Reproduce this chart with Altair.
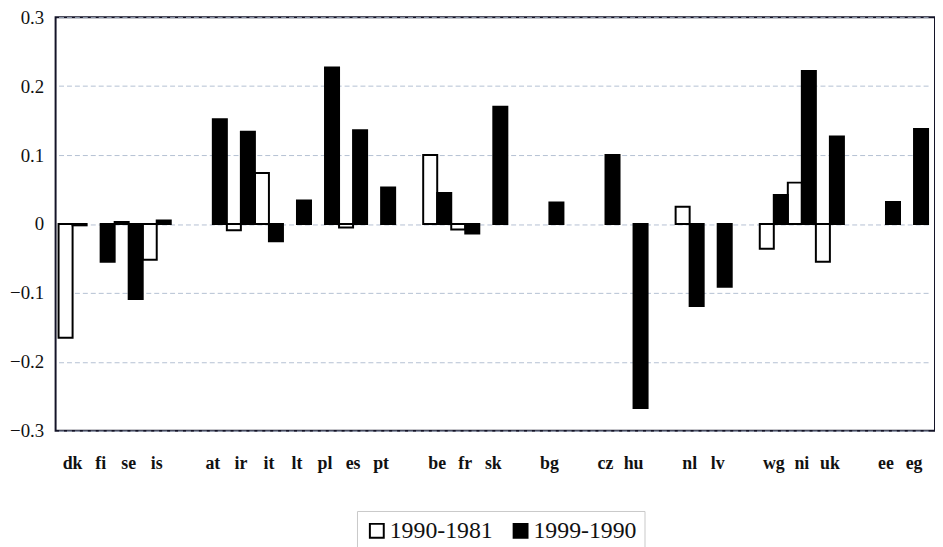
import altair as alt
import pandas as pd

# Country groups (gaps are drawn between groups)
groups = [
    ["dk", "fi", "se", "is"],
    ["at", "ir", "it", "lt", "pl", "es", "pt"],
    ["be", "fr", "sk"],
    ["bg"],
    ["cz", "hu"],
    ["nl", "lv"],
    ["wg", "ni", "uk"],
    ["ee", "eg"],
]
countries = [c for g in groups for c in g]
series = ["1990-1981", "1999-1990"]

v_1990_1981 = [-0.165, None, 0.003, -0.052,
               None, -0.009, 0.074, None, None, -0.005, None,
               0.100, -0.008, None,
               None,
               None, None,
               0.025, None,
               -0.036, 0.060, -0.055,
               None, None]
v_1999_1990 = [-0.002, -0.055, -0.109, 0.005,
               0.152, 0.134, -0.025, 0.034, 0.227, 0.136, 0.053,
               0.045, -0.014, 0.170,
               0.031,
               0.100, -0.267,
               -0.119, -0.091,
               0.042, 0.222, 0.127,
               0.032, 0.138]
y_ticks = [-0.3, -0.2, -0.1, 0, 0.1, 0.2, 0.3]

FONT = "Times New Roman, Liberation Serif, DejaVu Serif, serif"

domain = []
for i, g in enumerate(groups):
    if i:
        domain.append(f"_gap{i}")
    domain.extend(g)

rows = []
for s, vals in zip(series, [v_1990_1981, v_1999_1990]):
    for c, v in zip(countries, vals):
        if v is not None:
            rows.append({"country": c, "period": s, "value": v})
df = pd.DataFrame(rows)

chart = alt.Chart(df).mark_bar(stroke="black", strokeWidth=2).encode(
    x=alt.X(
        "country:N",
        sort=domain,
        scale=alt.Scale(domain=domain, range=[3, 880], paddingInner=0, paddingOuter=0),
        axis=alt.Axis(
            title=None, labelAngle=0,
            labelExpr="indexof(datum.label, '_gap') == 0 ? '' : datum.label",
            ticks=False, tickSize=0, domain=False, grid=False,
            labelFont=FONT, labelFontWeight="bold", labelFontSize=18,
            labelPadding=24, labelColor="#111",
        ),
    ),
    xOffset=alt.XOffset("period:N", scale=alt.Scale(domain=series, paddingInner=0, paddingOuter=0)),
    y=alt.Y(
        "value:Q",
        stack=None,
        scale=alt.Scale(domain=[-0.3, 0.3], nice=False),
        axis=alt.Axis(
            title=None, values=y_ticks, format=".1~f",
            ticks=False, tickSize=0, domain=False,
            grid=True, gridDash=[5, 3], gridColor="#b4c0d2", gridWidth=1,
            labelFont=FONT, labelFontSize=19, labelPadding=12, labelColor="#111",
        ),
    ),
    color=alt.Color(
        "period:N",
        scale=alt.Scale(domain=series, range=["#ffffff", "#000000"]),
        legend=alt.Legend(
            title=None, orient="none", legendX=304, legendY=498, direction="horizontal",
            symbolType="square", symbolSize=196, symbolStrokeColor="black", symbolStrokeWidth=2,
            symbolOpacity=1,
            labelFont=FONT, labelFontSize=24, labelColor="#111",
            strokeColor="#c8c8c8", padding=8, columnPadding=16, labelOffset=1,
        ),
    ),
).properties(
    width=887, height=417,
    autosize=alt.AutoSizeParams(type="none"),
    padding={"left": 48, "top": 7, "right": 0, "bottom": 115},
).configure_view(stroke="#141428", strokeWidth=2)

chart.save("out.html", embed_options={"renderer": "svg", "actions": False})
